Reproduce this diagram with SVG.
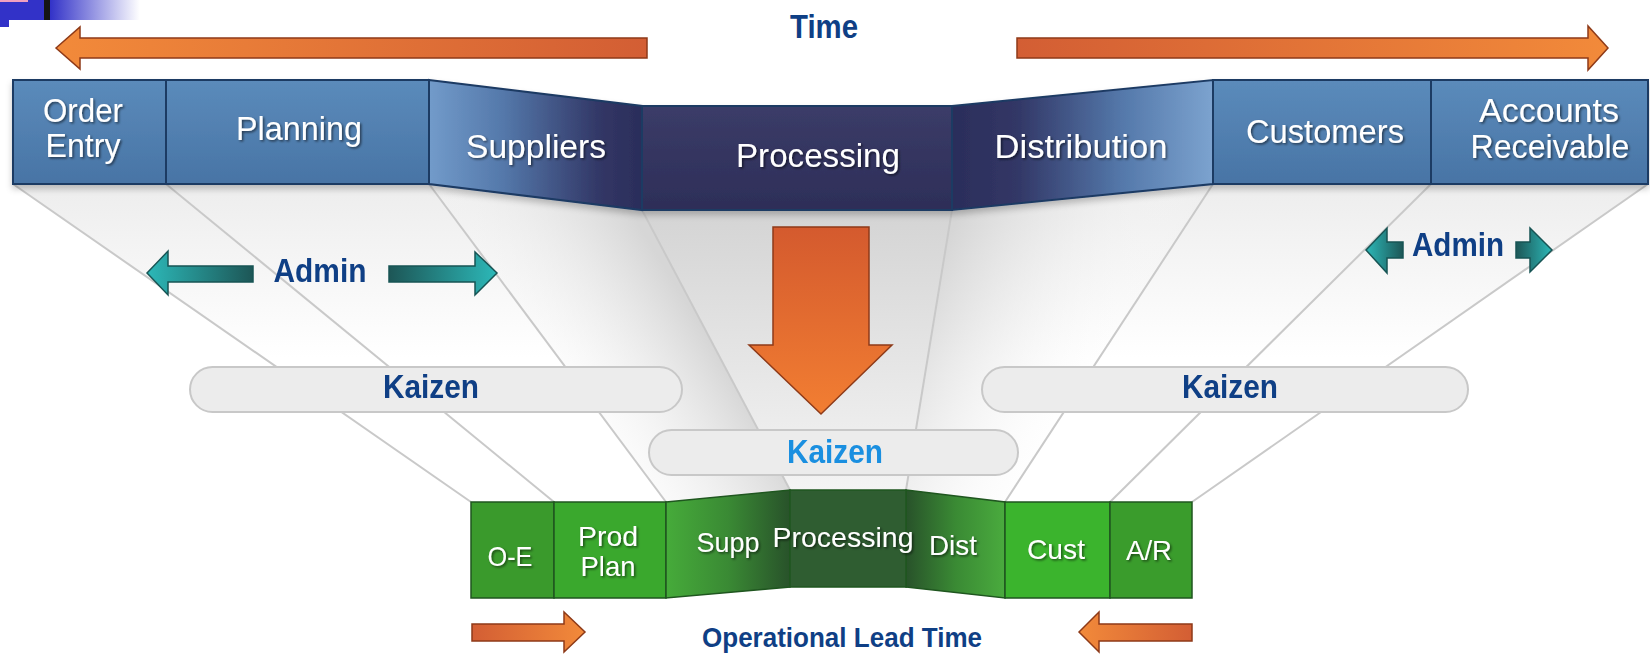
<svg xmlns="http://www.w3.org/2000/svg" width="1650" height="655" viewBox="0 0 1650 655">
<defs>
<style>
.wl{font-family:"Liberation Sans",Arial,sans-serif;font-size:33px;fill:#fff;text-anchor:middle;filter:url(#ts)}
.wb{font-family:"Liberation Sans",Arial,sans-serif;font-size:28px;fill:#fff;text-anchor:middle;filter:url(#ts)}
.bl{font-family:"Liberation Sans",Arial,sans-serif;font-size:34px;font-weight:bold;fill:#0f3f85;text-anchor:middle}
.fan{stroke:#c9c9c9;stroke-width:2;fill:none}
.tb{stroke:#1d3a64;stroke-width:2}
.gb{stroke:#1f561f;stroke-width:1.5}
.pill{fill:#ececec;stroke:#c8c8c8;stroke-width:2}
.oa{stroke:#8e3a18;stroke-width:1.5}
.ta{stroke:#175454;stroke-width:1.5}
</style>
<filter id="ts" filterUnits="userSpaceOnUse" x="0" y="0" width="1650" height="655"><feDropShadow dx="1.5" dy="1.5" stdDeviation="1" flood-color="#000" flood-opacity="0.55"/></filter>
<filter id="sh" filterUnits="userSpaceOnUse" x="0" y="0" width="1650" height="655"><feDropShadow dx="0" dy="4" stdDeviation="3" flood-color="#000" flood-opacity="0.22"/></filter>
<linearGradient id="gBlue" x1="0" y1="0" x2="0" y2="1"><stop offset="0" stop-color="#5b8bbb"/><stop offset="1" stop-color="#4874a5"/></linearGradient>
<linearGradient id="gSup" x1="429" y1="0" x2="642" y2="0" gradientUnits="userSpaceOnUse"><stop offset="0" stop-color="#729bca"/><stop offset="0.35" stop-color="#5478aa"/><stop offset="0.8" stop-color="#323766"/><stop offset="1" stop-color="#2b2d5a"/></linearGradient>
<linearGradient id="gDis" x1="952" y1="0" x2="1213" y2="0" gradientUnits="userSpaceOnUse"><stop offset="0" stop-color="#2b2d5a"/><stop offset="0.25" stop-color="#323766"/><stop offset="0.65" stop-color="#5478aa"/><stop offset="1" stop-color="#7ca3cf"/></linearGradient>
<linearGradient id="gPro" x1="0" y1="0" x2="0" y2="1"><stop offset="0" stop-color="#3b3c68"/><stop offset="1" stop-color="#2d2e58"/></linearGradient>
<linearGradient id="gGSup" x1="666" y1="0" x2="790" y2="0" gradientUnits="userSpaceOnUse"><stop offset="0" stop-color="#46ab3a"/><stop offset="0.5" stop-color="#3a8a34"/><stop offset="1" stop-color="#28522a"/></linearGradient>
<linearGradient id="gGDis" x1="906" y1="0" x2="1005" y2="0" gradientUnits="userSpaceOnUse"><stop offset="0" stop-color="#28522a"/><stop offset="0.5" stop-color="#3a8a34"/><stop offset="1" stop-color="#4aab3e"/></linearGradient>
<linearGradient id="gOL" x1="0" y1="0" x2="1" y2="0"><stop offset="0" stop-color="#f28a3a"/><stop offset="1" stop-color="#d35e34"/></linearGradient>
<linearGradient id="gOR" x1="0" y1="0" x2="1" y2="0"><stop offset="0" stop-color="#d35e34"/><stop offset="1" stop-color="#f28a3a"/></linearGradient>
<linearGradient id="gOD" x1="0" y1="0" x2="0" y2="1"><stop offset="0" stop-color="#d45a2e"/><stop offset="1" stop-color="#f27e32"/></linearGradient>
<linearGradient id="gTL" x1="0" y1="0" x2="1" y2="0"><stop offset="0" stop-color="#2cb8b8"/><stop offset="1" stop-color="#1d5656"/></linearGradient>
<linearGradient id="gTR" x1="0" y1="0" x2="1" y2="0"><stop offset="0" stop-color="#1d5656"/><stop offset="1" stop-color="#2cb8b8"/></linearGradient>
<linearGradient id="gCorner" x1="0" y1="0" x2="1" y2="0"><stop offset="0" stop-color="#3232c8"/><stop offset="1" stop-color="#ffffff"/></linearGradient>
<linearGradient id="gFloor" x1="0" y1="184" x2="0" y2="500" gradientUnits="userSpaceOnUse"><stop offset="0" stop-color="#ededed"/><stop offset="0.55" stop-color="#ffffff"/></linearGradient>
<linearGradient id="gMid" x1="0" y1="210" x2="0" y2="490" gradientUnits="userSpaceOnUse"><stop offset="0" stop-color="#d4d4d4"/><stop offset="1" stop-color="#f4f4f4"/></linearGradient>
<linearGradient id="gWL" x1="642" y1="230" x2="480" y2="330" gradientUnits="userSpaceOnUse"><stop offset="0" stop-color="#d6d6d6"/><stop offset="1" stop-color="#ffffff" stop-opacity="0"/></linearGradient>
<linearGradient id="gWR" x1="952" y1="230" x2="1140" y2="330" gradientUnits="userSpaceOnUse"><stop offset="0" stop-color="#d6d6d6"/><stop offset="1" stop-color="#ffffff" stop-opacity="0"/></linearGradient>
</defs>
<rect width="1650" height="655" fill="#ffffff"/>

<g id="corner">
<rect x="50" y="0" width="90" height="20" fill="url(#gCorner)"/>
<rect x="0" y="0" width="45" height="20" fill="#3232c8"/>
<rect x="0" y="20" width="9" height="7" fill="#3232c8"/>
<rect x="0" y="0" width="28" height="2" fill="#f0a0c0"/>
<rect x="44" y="0" width="6" height="20" fill="#151515"/>
</g>

<g id="floor">
<polygon points="13,184 429,184 642,210 952,210 1213,184 1648,184 1192,502 1110,502 1005,502 906,490 790,490 666,502 471,502" fill="url(#gFloor)"/>
<polygon points="429,184 642,210 790,490 666,502" fill="url(#gWL)"/>
<polygon points="952,210 1213,184 1005,502 906,490" fill="url(#gWR)"/>
<polygon points="642,210 952,210 906,490 790,490" fill="url(#gMid)"/>
</g>

<g id="connectors">
<line class="fan" x1="13" y1="184" x2="471" y2="502"/>
<line class="fan" x1="166" y1="184" x2="554" y2="502"/>
<line class="fan" x1="429" y1="184" x2="666" y2="502"/>
<line class="fan" x1="642" y1="210" x2="790" y2="490"/>
<line class="fan" x1="952" y1="210" x2="906" y2="490"/>
<line class="fan" x1="1213" y1="184" x2="1005" y2="502"/>
<line class="fan" x1="1431" y1="184" x2="1110" y2="502"/>
<line class="fan" x1="1648" y1="184" x2="1192" y2="502"/>
</g>

<g id="time-arrows">
<polygon class="oa" fill="url(#gOL)" points="56,48 80,27 80,38 647,38 647,58 80,58 80,69"/>
<polygon class="oa" fill="url(#gOR)" points="1017,38 1588,38 1588,26 1608,48 1588,70 1588,58 1017,58"/>
<text class="bl" x="824" y="38" textLength="68" lengthAdjust="spacingAndGlyphs">Time</text>
</g>

<g id="top-bar" filter="url(#sh)">
<g id="order-entry"><rect class="tb" x="13" y="80" width="153" height="104" fill="url(#gBlue)"/>
<text class="wl" x="83" y="122" textLength="80" lengthAdjust="spacingAndGlyphs">Order</text>
<text class="wl" x="83" y="157" textLength="75" lengthAdjust="spacingAndGlyphs">Entry</text></g>
<g id="planning"><rect class="tb" x="166" y="80" width="263" height="104" fill="url(#gBlue)"/>
<text class="wl" x="299" y="140" textLength="126" lengthAdjust="spacingAndGlyphs">Planning</text></g>
<g id="suppliers"><polygon class="tb" points="429,80 642,106 642,210 429,184" fill="url(#gSup)"/>
<text class="wl" x="536" y="158" textLength="140" lengthAdjust="spacingAndGlyphs">Suppliers</text></g>
<g id="processing"><rect class="tb" x="642" y="106" width="310" height="104" fill="url(#gPro)"/>
<text class="wl" x="818" y="167" textLength="164" lengthAdjust="spacingAndGlyphs">Processing</text></g>
<g id="distribution"><polygon class="tb" points="952,106 1213,80 1213,184 952,210" fill="url(#gDis)"/>
<text class="wl" x="1081" y="158" textLength="173" lengthAdjust="spacingAndGlyphs">Distribution</text></g>
<g id="customers"><rect class="tb" x="1213" y="80" width="218" height="104" fill="url(#gBlue)"/>
<text class="wl" x="1325" y="143" textLength="158" lengthAdjust="spacingAndGlyphs">Customers</text></g>
<g id="accounts-receivable"><rect class="tb" x="1431" y="80" width="217" height="104" fill="url(#gBlue)"/>
<text class="wl" x="1549" y="122" textLength="140" lengthAdjust="spacingAndGlyphs">Accounts</text>
<text class="wl" x="1550" y="158" textLength="159" lengthAdjust="spacingAndGlyphs">Receivable</text></g>
</g>

<g id="admin-left">
<polygon class="ta" fill="url(#gTL)" points="147,273 168,251 168,266 253,266 253,282 168,282 168,295"/>
<polygon class="ta" fill="url(#gTR)" points="389,266 475,266 475,252 497,273 475,295 475,282 389,282"/>
<text class="bl" x="320" y="282" textLength="93" lengthAdjust="spacingAndGlyphs">Admin</text>
</g>

<g id="admin-right">
<polygon class="ta" fill="url(#gTL)" points="1366,250 1387,228 1387,242 1403,242 1403,258 1387,258 1387,273"/>
<polygon class="ta" fill="url(#gTR)" points="1516,242 1530,242 1530,228 1552,250 1530,272 1530,258 1516,258"/>
<text class="bl" x="1458" y="256" textLength="92" lengthAdjust="spacingAndGlyphs">Admin</text>
</g>

<g id="down-arrow">
<polygon class="oa" fill="url(#gOD)" points="773,227 869,227 869,345 892,345 821,414 749,345 773,345"/>
</g>

<g id="kaizen-left">
<rect class="pill" x="190" y="367" width="492" height="45" rx="22.5"/>
<text class="bl" x="431" y="398" textLength="96" lengthAdjust="spacingAndGlyphs">Kaizen</text>
</g>
<g id="kaizen-right">
<rect class="pill" x="982" y="367" width="486" height="45" rx="22.5"/>
<text class="bl" x="1230" y="398" textLength="96" lengthAdjust="spacingAndGlyphs">Kaizen</text>
</g>
<g id="kaizen-center">
<rect class="pill" x="649" y="430" width="369" height="45" rx="22.5"/>
<text class="bl" x="835" y="463" textLength="96" lengthAdjust="spacingAndGlyphs" style="fill:#1a8fe0">Kaizen</text>
</g>

<g id="bottom-bar">
<g id="b-oe"><rect class="gb" x="471" y="502" width="83" height="96" fill="#3a9a2c"/>
<text class="wb" x="510" y="566" textLength="45" lengthAdjust="spacingAndGlyphs">O-E</text></g>
<g id="b-prodplan"><rect class="gb" x="554" y="502" width="112" height="96" fill="#3aa82d"/>
<text class="wb" x="608" y="546" textLength="60" lengthAdjust="spacingAndGlyphs">Prod</text>
<text class="wb" x="608" y="576" textLength="55" lengthAdjust="spacingAndGlyphs">Plan</text></g>
<g id="b-supp"><polygon class="gb" points="666,502 790,490 790,587 666,598" fill="url(#gGSup)"/>
<text class="wb" x="728" y="552" textLength="63" lengthAdjust="spacingAndGlyphs">Supp</text></g>
<g id="b-dist"><polygon class="gb" points="906,490 1005,502 1005,598 906,587" fill="url(#gGDis)"/>
<text class="wb" x="953" y="555" textLength="48" lengthAdjust="spacingAndGlyphs">Dist</text></g>
<g id="b-cust"><rect class="gb" x="1005" y="502" width="105" height="96" fill="#3bb42d"/>
<text class="wb" x="1056" y="559" textLength="58" lengthAdjust="spacingAndGlyphs">Cust</text></g>
<g id="b-ar"><rect class="gb" x="1110" y="502" width="82" height="96" fill="#3a9c2c"/>
<text class="wb" x="1149" y="560" textLength="46" lengthAdjust="spacingAndGlyphs">A/R</text></g>
<g id="b-processing"><rect class="gb" x="790" y="490" width="116" height="97" fill="#2f5d31"/>
<text class="wb" x="843" y="547" textLength="141" lengthAdjust="spacingAndGlyphs">Processing</text></g>
</g>

<g id="lead-time">
<polygon class="oa" fill="url(#gOR)" points="472,624 564,624 564,612 585,632 564,652 564,641 472,641"/>
<polygon class="oa" fill="url(#gOL)" points="1079,632 1099,612 1099,624 1192,624 1192,641 1099,641 1099,652"/>
<text class="bl" x="842" y="647" textLength="280" lengthAdjust="spacingAndGlyphs" style="font-size:28px">Operational Lead Time</text>
</g>
</svg>
